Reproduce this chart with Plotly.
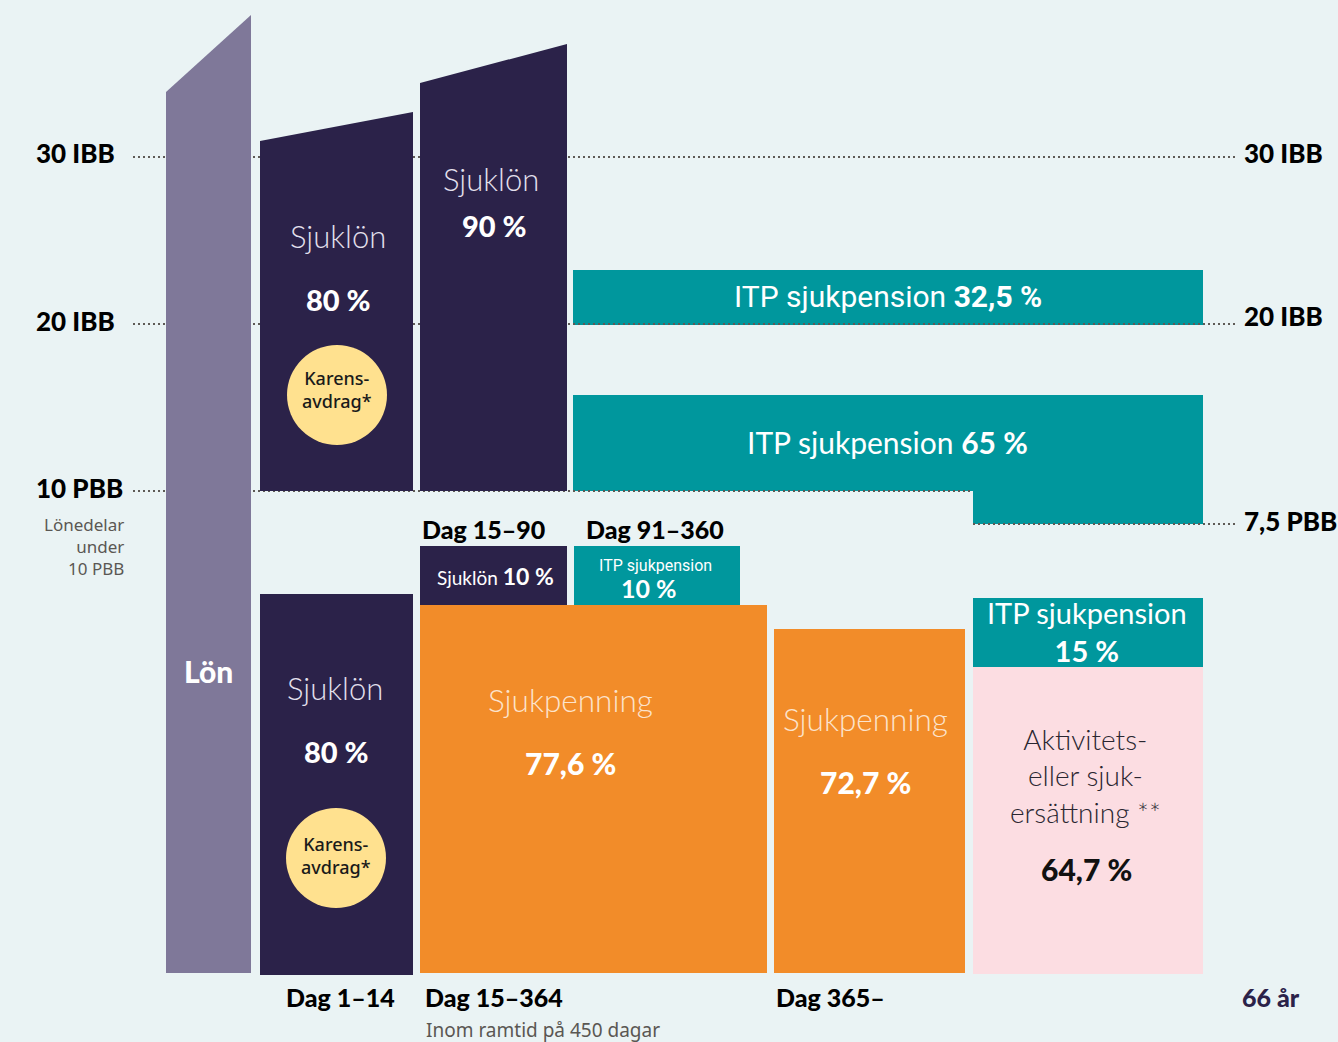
import plotly.graph_objects as go

# ---------------- data ----------------
W, H = 1338, 1042
BASE = 973

# benefit levels (label, vertical position on the diagram scale)
level_labels = ["30 IBB", "20 IBB", "10 PBB", "7,5 PBB"]
level_pos = [157, 324, 491, 524]

# salary column and upper sick-pay columns (x-span, top-left, top-right, bottom)
lon_span = [166, 251]
lon_top = [92, 15]
upper_spans = [[260, 413], [420, 567]]
upper_tops = [[141, 112], [83, 44]]
upper_bottom = 491

# rectangular blocks: x0, x1, top, bottom
block_names = ["ITP 32,5", "ITP 65a", "ITP 65b", "Sjuklön 80 nedre", "Sjuklön 10", "ITP 10",
               "Sjukpenning 77,6", "Sjukpenning 72,7", "ITP 15", "Aktivitetsersättning"]
block_x0 = [573, 573, 973, 260, 420, 574, 420, 774, 973, 973]
block_x1 = [1203, 973, 1203, 413, 567, 740, 767, 965, 1203, 1203]
block_top = [270, 395, 395, 594, 546, 546, 605, 629, 598, 667]
block_bottom = [325, 491, 524, 975, 605, 605, 973, 973, 667, 974]
block_kind = ["teal", "teal", "teal", "dark", "dark", "teal", "orange", "orange", "teal", "pink"]
block_behind_lines = [True, True, True, False, False, False, False, False, False, False]

pct = {"sjuklon_1_14": "80 %", "sjuklon_15_364": "90 %", "itp_hog": "32,5 %", "itp_mellan": "65 %",
       "sjuklon_15_90": "10 %", "itp_91_360": "10 %", "sjukpenning_1": "77,6 %",
       "sjukpenning_2": "72,7 %", "itp_365": "15 %", "aktivitet": "64,7 %"}

period_labels = ["Dag 1–14", "Dag 15–364", "Dag 365–", "66 år"]
sub_periods = ["Dag 15–90", "Dag 91–360"]
note_lines = ["Lönedelar", "under", "10 PBB"]
aktivitet_lines = ["Aktivitets-", "eller sjuk-", "ersättning **"]

# ---------------- style ----------------
BG = "#EAF3F4"
COL = {"dark": "#2B2249", "lon": "#7F7899", "teal": "#00979D", "orange": "#F28C29",
       "pink": "#FCDDE2", "yellow": "#FFE18F"}
HEAD = "Lato"
LIGHT = "Lato"
COND = "Roboto"

fig = go.Figure()
shapes = []
ann = []

def rect(x0, x1, y0, y1, color):
    shapes.append(dict(type="rect", xref="x", yref="y", x0=x0, x1=x1, y0=y0, y1=y1,
                       fillcolor=color, line=dict(width=0), layer="above"))

def dotted(x0, x1, y):
    shapes.append(dict(type="line", xref="x", yref="y", x0=x0, x1=x1, y0=y, y1=y,
                       line=dict(color="#5E5A55", width=2, dash="2px,3px"), layer="above"))

def text(x, y, s, size, color="white", family=HEAD, weight=None, xanchor="center", align="center"):
    f = dict(size=size, color=color, family=family)
    if weight:
        f["weight"] = weight
    ann.append(dict(x=x, y=y, xref="x", yref="y", text=s, showarrow=False, font=f,
                    xanchor=xanchor, yanchor="middle", align=align))

# teal blocks first (dotted lines run along their edges)
for i in range(len(block_names)):
    if block_behind_lines[i]:
        rect(block_x0[i], block_x1[i], block_top[i], block_bottom[i], COL[block_kind[i]])

# dotted level lines
dotted(133, 1235, level_pos[0])
dotted(133, 1235, level_pos[1])
dotted(133, 973, level_pos[2])
dotted(973, 1235, level_pos[3])

# salary column
shapes.append(dict(type="path", xref="x", yref="y",
                   path=f"M{lon_span[0]},{BASE} L{lon_span[0]},{lon_top[0]} L{lon_span[1]},{lon_top[1]} L{lon_span[1]},{BASE} Z",
                   fillcolor=COL["lon"], line=dict(width=0), layer="above"))
# upper sick-pay columns
for (x0, x1), (t0, t1) in zip(upper_spans, upper_tops):
    shapes.append(dict(type="path", xref="x", yref="y",
                       path=f"M{x0},{upper_bottom} L{x0},{t0} L{x1},{t1} L{x1},{upper_bottom} Z",
                       fillcolor=COL["dark"], line=dict(width=0), layer="above"))

# remaining blocks
for i in range(len(block_names)):
    if not block_behind_lines[i]:
        rect(block_x0[i], block_x1[i], block_top[i], block_bottom[i], COL[block_kind[i]])

# karensavdrag circles
for cx, cy in [(337, 395), (336, 858)]:
    shapes.append(dict(type="circle", xref="x", yref="y", x0=cx - 50, x1=cx + 50, y0=cy - 50, y1=cy + 50,
                       fillcolor=COL["yellow"], line=dict(width=0), layer="above"))

# ---------------- texts ----------------
SJ = "#E4E0EE"
HW = 900
# level labels
text(117, 153, level_labels[0], 26, "black", HEAD, weight=HW, xanchor="right", align="right")
text(117, 321, level_labels[1], 26, "black", HEAD, weight=HW, xanchor="right", align="right")
text(125, 488, level_labels[2], 26, "black", HEAD, weight=HW, xanchor="right", align="right")
text(1242, 153, level_labels[0], 26, "black", HEAD, weight=HW, xanchor="left", align="left")
text(1242, 316, level_labels[1], 26, "black", HEAD, weight=HW, xanchor="left", align="left")
text(1242, 521, level_labels[3], 26, "black", HEAD, weight=HW, xanchor="left", align="left")
text(126, 546, "<br>".join(note_lines), 17, "#5A5753", "Noto Sans", xanchor="right", align="right")

# upper block labels
text(338, 236, "Sjuklön", 31, SJ, LIGHT, weight=300)
text(338, 299, pct["sjuklon_1_14"], 29, "white", HEAD, weight=HW)
text(337, 389, "Karens-<br>avdrag*", 18, "#1A1A1A", "Noto Sans", weight=500)
text(491, 179, "Sjuklön", 31, SJ, LIGHT, weight=300)
text(494, 225, pct["sjuklon_15_364"], 29, "white", HEAD, weight=HW)
text(888, 296, "ITP sjukpension <b>" + pct["itp_hog"] + "</b>", 30, "white", COND)
text(887, 442, "ITP sjukpension <b>" + pct["itp_mellan"] + "</b>", 30, "white", HEAD)

# lower block labels
text(208, 671, "Lön", 30, "white", HEAD, weight=HW)
text(335, 688, "Sjuklön", 31, SJ, LIGHT, weight=300)
text(336, 751, pct["sjuklon_1_14"], 29, "white", HEAD, weight=HW)
text(336, 855, "Karens-<br>avdrag*", 18, "#1A1A1A", "Noto Sans", weight=500)
text(483, 529, sub_periods[0], 25, "black", HEAD, weight=HW)
text(655, 529, sub_periods[1], 25, "black", HEAD, weight=HW)
text(495, 576, "Sjuklön <b><span style='font-size:23px'>" + pct["sjuklon_15_90"] + "</span></b>", 19, "white", HEAD)
text(655, 565, "ITP sjukpension", 16, "white", COND)
text(649, 588, "<b>" + pct["itp_91_360"] + "</b>", 25)
text(570, 700, "Sjukpenning", 31.5, "#FCE3CC", LIGHT, weight=300)
text(570, 763, pct["sjukpenning_1"], 30, "white", HEAD, weight=HW)
text(865, 719, "Sjukpenning", 31.5, "#FCE3CC", LIGHT, weight=300)
text(865, 782, pct["sjukpenning_2"], 30, "white", HEAD, weight=HW)
text(1087, 631, "ITP sjukpension<br><b>" + pct["itp_365"] + "</b>", 29, "white", HEAD)
text(1085, 775, "<br>".join(aktivitet_lines), 28, "#2A2630", LIGHT, weight=300)
text(1086, 869, pct["aktivitet"], 30, "#111111", HEAD, weight=HW)

# period labels
text(340, 997, period_labels[0], 25, "black", HEAD, weight=HW)
text(494, 997, period_labels[1], 25, "black", HEAD, weight=HW)
text(543, 1030, "Inom ramtid på 450 dagar", 19, "#5A5753", "Noto Sans")
text(830, 997, period_labels[2], 25, "black", HEAD, weight=HW)
text(1271, 997, period_labels[3], 25, COL["dark"], HEAD, weight=HW)

fig.update_layout(
    width=W, height=H, margin=dict(l=0, r=0, t=0, b=0),
    paper_bgcolor=BG, plot_bgcolor=BG, showlegend=False,
    xaxis=dict(range=[0, W], visible=False, fixedrange=True),
    yaxis=dict(range=[H, 0], visible=False, fixedrange=True),
    shapes=shapes, annotations=ann,
)
fig.write_html("out.html", config={"displayModeBar": False})
